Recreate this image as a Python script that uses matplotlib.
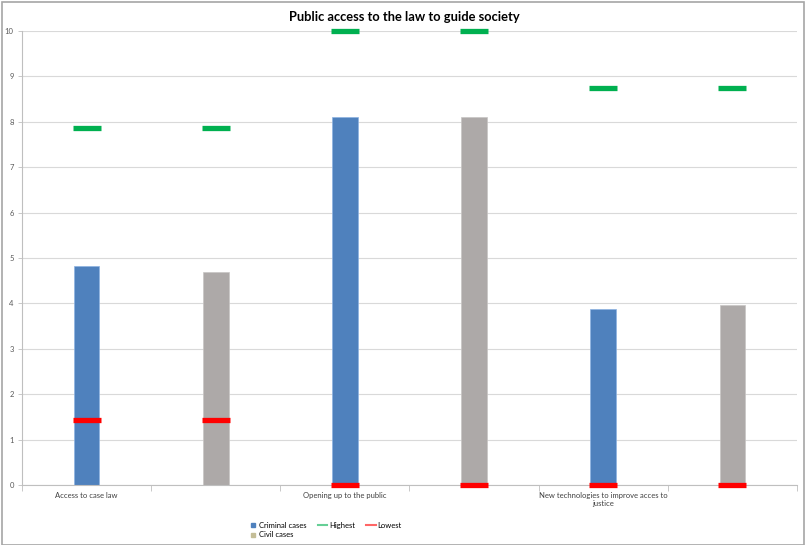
import numpy as np
import matplotlib
matplotlib.use("Agg")
import matplotlib.pyplot as plt
from matplotlib.patches import Rectangle
from matplotlib.lines import Line2D

plt.rcParams['font.family'] = ['Lato', 'DejaVu Sans']

categories = ["Access to case law", "", "Opening up to the public", "",
              "New technologies to improve acces to\njustice", ""]
criminal = [4.82, np.nan, 8.1, np.nan, 3.87, np.nan]
civil = [np.nan, 4.7, np.nan, 8.1, np.nan, 3.97]
highest = [7.87, 7.87, 10.0, 10.0, 8.75, 8.75]
lowest = [1.43, 1.43, 0.0, 0.0, 0.0, 0.0]

c_crim = "#4F81BD"
c_civ = "#ADA9A8"
c_civ_leg = "#C4BD97"
c_hi = "#00B050"
c_lo = "#FF0000"

W, H = 806, 545
fig = plt.figure(figsize=(W/100, H/100), dpi=100)
ax = fig.add_axes([22/W, 60/H, (797-22)/W, (485-31)/H])

x = np.arange(len(categories))
ax.bar(x, criminal, width=0.2, color=c_crim, edgecolor="#8DB3E2", linewidth=0.5, zorder=2)
ax.bar(x, civil, width=0.2, color=c_civ, edgecolor="#C8C5C4", linewidth=0.5, zorder=2)
ax.plot(x, highest, linestyle="none", marker="_", markersize=19.5, markeredgewidth=3.8,
        color=c_hi, zorder=3, clip_on=False)
ax.plot(x, lowest, linestyle="none", marker="_", markersize=19.5, markeredgewidth=3.8,
        color=c_lo, zorder=3, clip_on=False)

ax.set_xlim(-0.5, len(categories) - 0.5)
ax.set_ylim(0, 10)
ax.set_yticks(range(0, 11))
ax.yaxis.grid(True, color="#D9D9D9", linewidth=0.8)
ax.set_axisbelow(True)
ax.tick_params(axis="y", labelsize=5.5, colors="#595959", length=3, width=0.6, pad=3, color="#BFBFBF")
ax.set_xticks(x)
ax.set_xticklabels(categories, fontsize=5.5, color="#404040")
ax.tick_params(axis="x", length=0, pad=5)
ax.set_xticks(np.arange(-0.5, len(categories)), minor=True)
ax.tick_params(axis="x", which="minor", length=4, width=0.6, color="#BFBFBF")
for s in ["top", "right"]:
    ax.spines[s].set_visible(False)
for s in ["left", "bottom"]:
    ax.spines[s].set_color("#BFBFBF")
    ax.spines[s].set_linewidth(0.8)

fig.text(404/W, 1 - 17/H, "Public access to the law to guide society", ha="center", va="center",
         fontsize=9.3, fontweight="bold", color="#000000")

handles = [Line2D([], [], lw=0, marker="s", markersize=3.5, color=c_crim),
           Line2D([], [], lw=0, marker="s", markersize=3.5, color=c_civ_leg),
           Line2D([], [], color=c_hi, lw=1.5, alpha=0.6),
           Line2D([], [], color=c_lo, lw=1.5, alpha=0.6)]
labels = ["Criminal cases", "Civil cases", "Highest", "Lowest"]
fig.legend(handles, labels, ncol=3, loc="center", bbox_to_anchor=(325/W, 1 - 530/H),
           frameon=False, fontsize=5.5, handlelength=1.2, handleheight=0.6, handletextpad=0.2,
           columnspacing=1.5, labelspacing=0.3, borderpad=0)

fig.add_artist(Rectangle((1.5/W, 0), (W-4)/W, (H-1.5)/H, transform=fig.transFigure,
                         fill=False, edgecolor="#A6A6A6", linewidth=1.2))

fig.savefig("out.png", dpi=100)
